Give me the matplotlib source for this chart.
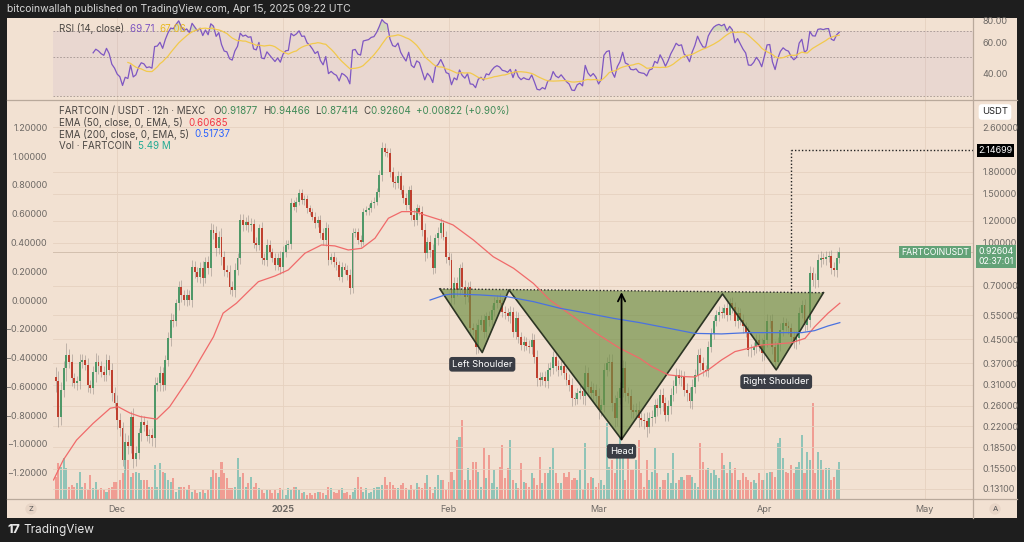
import numpy as np
import pandas as pd
import matplotlib
matplotlib.use('Agg')
import matplotlib.pyplot as plt
import matplotlib.dates as mdates
from matplotlib.patches import Rectangle
from matplotlib.lines import Line2D
from matplotlib.ticker import NullLocator

W, H = 1024, 542
plt.rcParams['font.family'] = ['Inter', 'DejaVu Sans']

# ---- data (12h candles from 2024-11-19 12:00) ----
first_open = 0.33
closes = [
    0.320, 0.238, 0.297, 0.355, 0.396, 0.375, 0.327, 0.313, 0.318, 0.375,
    0.380, 0.365, 0.309, 0.301, 0.345, 0.372, 0.361, 0.345, 0.336, 0.380,
    0.350, 0.289, 0.266, 0.231, 0.216, 0.166, 0.193, 0.186, 0.238, 0.168,
    0.176, 0.207, 0.228, 0.222, 0.202, 0.205, 0.199, 0.309, 0.313, 0.341,
    0.309, 0.380, 0.455, 0.529, 0.525, 0.606, 0.696, 0.650, 0.624, 0.650,
    0.624, 0.821, 0.788, 0.756, 0.810, 0.746, 0.855, 0.810, 1.111, 1.082,
    0.956, 1.052, 0.892, 0.799, 0.788, 0.696, 0.677, 0.799, 0.880, 1.207,
    1.158, 1.190, 1.158, 1.170, 0.997, 0.982, 1.127, 0.880, 0.868, 0.982,
    0.929, 0.880, 0.833, 0.880, 0.821, 0.929, 0.982, 0.990, 1.386, 1.347,
    1.405, 1.512, 1.424, 1.430, 1.329, 1.293, 1.240, 1.175, 1.207, 1.082,
    1.023, 1.127, 0.868, 0.892, 0.855, 0.833, 0.756, 0.821, 0.799, 0.766,
    0.687, 1.082, 1.096, 1.023, 1.009, 1.293, 1.311, 1.329, 1.386, 1.405,
    1.524, 1.750, 2.184, 2.124, 2.096, 1.798, 1.657, 1.635, 1.736, 1.547,
    1.446, 1.366, 1.547, 1.258, 1.207, 1.329, 1.293, 1.111, 0.917, 1.009,
    0.942, 0.810, 1.037, 1.082, 1.175, 1.052, 0.892, 0.868, 0.633, 0.718,
    0.677, 0.810, 0.696, 0.641, 0.696, 0.494, 0.487, 0.424, 0.507, 0.529,
    0.480, 0.544, 0.529, 0.574, 0.607, 0.624, 0.607, 0.566, 0.559, 0.544,
    0.566, 0.480, 0.536, 0.461, 0.430, 0.442, 0.428, 0.424, 0.448, 0.390,
    0.327, 0.322, 0.331, 0.320, 0.350, 0.355, 0.390, 0.361, 0.350, 0.361,
    0.341, 0.322, 0.309, 0.277, 0.275, 0.289, 0.293, 0.281, 0.341, 0.305,
    0.289, 0.297, 0.281, 0.251, 0.262, 0.350, 0.370, 0.375, 0.266, 0.235,
    0.277, 0.301, 0.355, 0.289, 0.281, 0.251, 0.248, 0.252, 0.235, 0.231,
    0.229, 0.218, 0.235, 0.238, 0.262, 0.255, 0.285, 0.266, 0.241, 0.259,
    0.285, 0.307, 0.336, 0.327, 0.331, 0.297, 0.289, 0.270, 0.305, 0.336,
    0.396, 0.370, 0.350, 0.348, 0.424, 0.474, 0.522, 0.551, 0.566, 0.559,
    0.582, 0.551, 0.607, 0.590, 0.522, 0.559, 0.529, 0.501, 0.480, 0.413,
    0.411, 0.424, 0.448, 0.430, 0.401, 0.448, 0.522, 0.525, 0.424, 0.375,
    0.436, 0.487, 0.516, 0.501, 0.494, 0.461, 0.442, 0.455, 0.559, 0.598,
    0.507, 0.529, 0.777, 0.736, 0.733, 0.868, 0.880, 0.873, 0.892, 0.895,
    0.810, 0.799, 0.880, 0.926,
]
# wick length beyond the body, in percent
wick_pct = [
    9, 8, 7, 6, 10, 5, 6, 4, 5, 6,  5, 4, 6, 4, 5, 8, 6, 4, 5, 5,
    4, 6, 5, 7, 6, 5, 8, 6, 5, 7,  6, 5, 6, 5, 4, 5, 6, 7, 5, 6,
    5, 4, 5, 6, 5, 4, 5, 6, 4, 5,  4, 6, 5, 4, 5, 6, 4, 5, 6, 5,
    6, 5, 7, 5, 4, 6, 5, 6, 4, 5,  5, 4, 6, 5, 4, 5, 4, 5, 4, 5,
    4, 3, 4, 4, 6, 5, 4, 3, 4, 3,  4, 3, 3, 4, 4, 3, 3, 4, 3, 4,
    4, 5, 4, 3, 4, 4, 3, 4, 3, 4,  5, 4, 3, 3, 4, 3, 3, 4, 3, 4,
    3, 4, 5, 4, 3, 4, 4, 5, 4, 3,  4, 4, 3, 4, 5, 4, 3, 5, 6, 4,
    6, 5, 4, 5, 4, 3, 5, 4, 6, 5,  5, 4, 5, 6, 4, 5, 4, 6, 5, 4,
    5, 4, 5, 4, 5, 4, 6, 4, 5, 4,  5, 4, 6, 5, 4, 5, 4, 5, 6, 5,
    6, 5, 4, 5, 6, 5, 5, 4, 5, 4,  5, 4, 5, 6, 5, 4, 5, 6, 7, 5,
    5, 6, 5, 7, 5, 6, 5, 6, 6, 7,  6, 5, 7, 6, 5, 6, 5, 6, 7, 5,
    6, 8, 5, 6, 5, 6, 5, 6, 5, 5,  6, 5, 6, 5, 6, 5, 6, 5, 6, 5,
    5, 6, 5, 4, 5, 4, 5, 4, 5, 4,  4, 5, 4, 5, 4, 5, 4, 5, 4, 5,
    5, 4, 5, 5, 6, 5, 6, 5, 6, 5,  5, 6, 5, 4, 5, 4, 5, 6, 5, 4,
    5, 4, 6, 5, 6, 5, 6, 4, 5, 4,  5, 5, 6, 4,
]
# volume, millions of FARTCOIN
volume_m = [
    3.3, 5.4, 4.8, 6.2, 4.7, 1.8, 2.1, 1.8, 2.4, 4.1, 1.8, 2.4, 1.4, 3.6, 1.7, 2.6, 1.4, 1.7, 1.4, 1.1,
    1.7, 1.8, 2.6, 2.6, 2.9, 3.9, 5.9, 5.9, 3.3, 3.9, 4.1, 3.9, 2.9, 2.9, 2.9, 1.8, 1.8, 5.1, 1.8, 5.4,
    4.1, 3.9, 2.9, 2.6, 3.2, 1.1, 1.8, 1.8, 1.8, 1.4, 2.1, 1.1, 1.4, 0.9, 1.1, 1.4, 0.9, 1.4, 3.3, 4.4,
    3.9, 3.3, 5.6, 3.9, 3.2, 1.7, 1.7, 1.8, 6.2, 3.3, 3.9, 1.8, 2.4,
    3.3, 1.8, 2.4, 1.7, 1.4, 0.9, 1.4, 1.4, 0.9, 1.4, 0.9, 1.7, 1.4, 0.6, 1.7, 1.4, 1.8,
    1.8, 1.4, 0.9, 1.1, 0.6, 0.9, 0.6, 0.9, 1.1, 1.1, 0.9, 0.6, 1.8, 1.7, 1.1, 0.9,
    1.4, 1.7, 0.9, 1.1, 0.6, 1.1, 1.7, 3.3, 1.8, 1.1, 1.7, 0.9, 1.1, 1.7, 1.8, 1.8, 2.1, 3.3, 2.1,
    2.6, 2.1, 1.7, 1.7, 2.1, 2.4, 1.7, 1.4, 2.1, 1.4, 2.4, 1.8, 1.7, 2.4, 3.6, 1.8, 0.9, 1.8, 3.6,
    2.9, 2.9, 1.4, 2.6, 4.1, 2.9, 8.9, 9.3, 11.9, 2.9, 4.7, 2.9, 5.6, 5.6, 4.1, 1.8, 7.7, 3.2, 6.6, 2.4,
    4.4, 1.8, 4.8, 8.1, 3.2, 4.7, 8.9, 2.9, 2.4, 1.7, 5.4, 2.6, 2.4, 1.8, 3.9, 3.2, 2.1, 6.3, 2.4, 3.9,
    3.9, 4.8, 7.7, 3.9, 2.4, 2.4, 3.9, 3.3, 4.1, 2.9, 3.2, 2.9, 4.4, 1.4, 8.4, 2.4, 3.3, 3.2, 1.8, 2.4,
    2.9, 2.1, 11.4, 4.8, 5.9, 3.9, 7.7, 9.2, 6.9, 2.9, 7.4, 4.4, 4.4, 5.9,
    8.9, 3.9, 1.8, 5.9, 2.9, 4.1, 7.7, 3.9, 1.8, 2.9, 2.9, 3.9, 2.4,
    6.9, 2.4, 2.9, 3.3, 2.9, 3.6, 3.6, 3.3, 2.4, 1.8, 8.4, 5.6, 4.4,
    4.7, 3.9, 4.4, 3.6, 3.2, 6.9, 5.1, 3.9, 5.6, 3.9, 4.7, 2.9, 2.9,
    3.9, 3.3, 2.9, 2.6, 2.9, 2.4, 3.9, 2.9, 2.9, 3.9, 4.1, 4.1, 3.3,
    8.4, 9.2, 6.2, 4.1, 3.9, 5.1, 3.9, 4.8, 5.6, 9.6, 3.9,
    7.1, 5.9, 14.4, 3.9, 7.1, 5.9, 4.4, 4.7, 4.7, 2.9, 3.3, 4.5, 5.49,
]

# EMA lines, x in days from 2025-01-01
ema50_day = [-42.9, -41.1, -38.6, -35.5, -32.3, -30.8, -28.6, -26.7, -23.6, -21.2,
             -17.4, -13.0, -11.2, -8.7, -6.2, -4.6, -1.5, 1.0, 4.1, 7.2,
             9.7, 12.2, 14.7, 17.2, 19.7, 22.2, 24.7, 26.5, 29.4, 31.8,
             35.6, 39.3, 43.1, 46.8, 49.9, 54.3, 58.6, 63.0, 66.7, 68.9,
             72.0, 75.1, 77.0, 79.5, 82.0, 84.5, 87.0, 89.5, 92.0, 95.1,
             97.6, 99.4, 101.9, 104.1]
ema50_val = [0.141, 0.166, 0.196, 0.225, 0.255, 0.258, 0.245, 0.238, 0.233, 0.258,
             0.331, 0.460, 0.559, 0.607, 0.677, 0.725, 0.760, 0.799, 0.917, 0.982,
             0.974, 0.942, 0.955, 1.038, 1.224, 1.293, 1.293, 1.257, 1.207, 1.158,
             1.023, 0.891, 0.810, 0.715, 0.623, 0.543, 0.473, 0.418, 0.385, 0.360,
             0.336, 0.331, 0.330, 0.350, 0.380, 0.407, 0.418, 0.430, 0.433, 0.438,
             0.454, 0.500, 0.559, 0.607]
ema200_day = [27.5, 30.3, 31.8, 36.8, 41.8, 46.8, 51.8, 56.8, 61.7, 66.7,
              72.0, 77.0, 82.0, 87.0, 92.0, 97.0, 99.4, 101.9, 104.1]
ema200_val = [0.623, 0.650, 0.655, 0.650, 0.641, 0.615, 0.582, 0.559, 0.536, 0.517,
              0.494, 0.473, 0.471, 0.476, 0.476, 0.476, 0.484, 0.503, 0.517]

# inverse head & shoulders drawing
hs_time = ['2025-01-30 08:00', '2025-02-07 06:00', '2025-02-12 06:00', '2025-03-05 07:00',
           '2025-03-24 04:00', '2025-04-03 05:00', '2025-04-12 01:00']
hs_price = [0.683, 0.404, 0.677, 0.197, 0.655, 0.350, 0.662]
hs_names = {1: 'Left Shoulder', 3: 'Head', 5: 'Right Shoulder'}
arrow_top = 0.665
target_time = '2025-04-06 01:00'
target_from = 0.660
target_price = 2.14699
last_price = 0.92604

right_ticks = [2.6, 1.8, 1.5, 1.2, 1.0, 0.7, 0.55, 0.45, 0.37, 0.31, 0.26, 0.22, 0.185, 0.155, 0.131]
left_ticks = [1.2, 1.0, 0.8, 0.6, 0.4, 0.2, 0.0, -0.2, -0.4, -0.6, -0.8, -1.0, -1.2]
rsi_ticks = [40, 60, 80]
months = ['2024-12-01', '2025-01-01', '2025-02-01', '2025-03-01', '2025-04-01', '2025-05-01']
month_labels = ['Dec', '2025', 'Feb', 'Mar', 'Apr', 'May']

# ---- derived ----
n = len(closes)
c = np.array(closes)
o = np.array([first_open] + closes[:-1])
w = np.array(wick_pct[:n]) / 100.0
hi = np.maximum(o, c) * (1 + w)
lo = np.minimum(o, c) * (1 - w)
t = pd.Timestamp('2024-11-19 12:00') + pd.to_timedelta(np.arange(n) * 12, unit='h')
x = mdates.date2num(t)
up = c >= o
base = mdates.date2num(pd.Timestamp('2025-01-01'))
xlim = (base - 43, base + 129)


def rsi_wilder(v, k=14):
    d = np.diff(v)
    g = np.clip(d, 0, None)
    l = np.clip(-d, 0, None)
    out = np.full(len(v), np.nan)
    ag, al = g[:k].mean(), l[:k].mean()
    out[k] = 100 - 100 / (1 + ag / al)
    for i in range(k + 1, len(v)):
        ag = (ag * (k - 1) + g[i - 1]) / k
        al = (al * (k - 1) + l[i - 1]) / k
        out[i] = 100 - 100 / (1 + ag / al)
    return out


rsi = rsi_wilder(c)
rsi_ma = pd.Series(rsi).rolling(14).mean().values

BG = '#f2e1d2'
GRID = '#e6d1bf'
TXT = '#6e6965'
SEP = '#b9a99b'

fig = plt.figure(figsize=(W / 100, H / 100), dpi=100, facecolor='#1e1e1e')
fig.add_artist(Rectangle((7 / W, 1 - 518 / H), 1010 / W, 500 / H, transform=fig.transFigure,
                         facecolor=BG, edgecolor='none', zorder=0))

rect_price = [53 / W, 1 - 499 / H, 920 / W, 399 / H]
rect_rsi = [53 / W, 1 - 100 / H, 920 / W, 82 / H]

# volume (behind)
axv = fig.add_axes(rect_price, facecolor='none')
nv = min(n, len(volume_m))
vcol = np.where(up[:nv], '#26a69a', '#ef5350')
axv.bar(x[:nv], volume_m[:nv], width=0.38, color=vcol, alpha=0.48, linewidth=0)
axv.set_xlim(*xlim)
axv.set_ylim(0, 60)
axv.axis('off')

# left dummy axis
axl = fig.add_axes(rect_price, facecolor='none')
axl.set_ylim(-1.382, 1.389)
axl.set_yticks(left_ticks)
axl.set_yticklabels([('%.5f' % v).replace('-', '\u2212') if v != 0 else '0.00000' for v in left_ticks])
axl.set_xticks([])
axl.tick_params(axis='y', length=0, pad=4, labelsize=6.5, labelcolor=TXT)
for s in axl.spines.values():
    s.set_visible(False)

# price
ax = fig.add_axes(rect_price, facecolor='none')
ax.set_yscale('log')
ax.set_xlim(*xlim)
ax.set_ylim(0.1205, 3.25)
mx = mdates.date2num(pd.to_datetime(months))
ax.set_xticks(mx)
ax.set_xticklabels(month_labels)
ax.get_xticklabels()[1].set_fontweight('bold')
ax.yaxis.tick_right()
ax.set_yticks(right_ticks)
ax.set_yticklabels(['%.5f' % v for v in right_ticks])
ax.yaxis.set_minor_locator(NullLocator())
ax.tick_params(axis='y', length=0, pad=7, labelsize=6.5, labelcolor=TXT)
ax.tick_params(axis='x', length=0, pad=4, labelsize=6.5, labelcolor=TXT)
ax.grid(True, color=GRID, lw=0.6, zorder=0)
for s in ax.spines.values():
    s.set_visible(False)

ax.axhline(last_price, color='#d3bfae', lw=0.7, zorder=1)
ax.vlines(x, lo, hi, color='#8f8781', lw=0.6, alpha=0.6, zorder=2)
ax.bar(x[up], c[up] - o[up], bottom=o[up], width=0.36, color='#4f9868', linewidth=0, zorder=3)
ax.bar(x[~up], o[~up] - c[~up], bottom=c[~up], width=0.36, color='#bf3f2e', linewidth=0, zorder=3)

hx = mdates.date2num(pd.to_datetime(hs_time))
ax.fill(list(hx), hs_price, facecolor='#6f8f45', alpha=0.68, edgecolor='none', zorder=4)
ax.plot(hx, hs_price, color='#2c3524', lw=1.2, zorder=5)
ax.plot([hx[0], hx[-1]], [hs_price[0], hs_price[-1]], color='#2c2c2c', lw=1,
        ls=(0, (1, 1.5)), zorder=5)

ax.plot(base + np.array(ema50_day), ema50_val, color='#f06a6a', lw=0.9, zorder=6)
ax.plot(base + np.array(ema200_day), ema200_val, color='#4a72e0', lw=0.9, zorder=6)

ax.annotate('', xy=(hx[3], arrow_top), xytext=(hx[3], hs_price[3]),
            arrowprops=dict(arrowstyle='->', color='black', lw=1.3, mutation_scale=13,
                            shrinkA=0, shrinkB=0), zorder=7)
tx = mdates.date2num(pd.Timestamp(target_time))
ax.plot([tx, tx], [target_from, target_price], color='#222', lw=1, ls=(0, (1, 1.5)), zorder=7)
ax.plot([tx, xlim[1]], [target_price, target_price], color='#222', lw=1, ls=(0, (1, 1.5)), zorder=7)

for i, name in hs_names.items():
    ax.annotate(name, xy=(hx[i], hs_price[i]), xytext=(0, -8.5), textcoords='offset points',
                ha='center', va='center', fontsize=6.8, color='white', zorder=8,
                bbox=dict(boxstyle='round,pad=0.3', fc='#3a3d45', ec='none'))

ax.annotate('%.5f' % target_price, xy=(1, target_price), xycoords=('axes fraction', 'data'),
            xytext=(4, 0), textcoords='offset points', ha='left', va='center', fontsize=6.5,
            color='white', bbox=dict(boxstyle='square,pad=0.2', fc='black', ec='none'),
            annotation_clip=False)
ax.annotate('%.5f\n02:37:01' % last_price, xy=(1, last_price), xycoords=('axes fraction', 'data'),
            xytext=(4, -3), textcoords='offset points', ha='left', va='center', fontsize=6.3,
            color='white', linespacing=1.1,
            bbox=dict(boxstyle='square,pad=0.25', fc='#63a277', ec='none'), annotation_clip=False)
ax.annotate('FARTCOINUSDT', xy=(1, last_price), xycoords=('axes fraction', 'data'),
            xytext=(-3, 0), textcoords='offset points', ha='right', va='center', fontsize=6.3,
            color='white', bbox=dict(boxstyle='square,pad=0.2', fc='#63a277', ec='none'),
            annotation_clip=False)

# RSI pane
ar = fig.add_axes(rect_rsi, facecolor='none')
ar.set_yscale('log')
ar.set_xlim(*xlim)
ar.set_ylim(28.4, 82.5)
ar.axhspan(30, 70, color='#7e57c2', alpha=0.07, lw=0)
for lvl in (70, 50, 30):
    ar.axhline(lvl, color='#a39591', lw=0.6, ls=(0, (2, 2)))
for m in mx:
    ar.axvline(m, color=GRID, lw=0.6, zorder=0)
ar.fill_between(x, 70, rsi, where=rsi > 70, color='#4caf50', alpha=0.18, interpolate=True, lw=0)
ar.plot(x, rsi, color='#7e57c2', lw=0.9)
ar.plot(x, rsi_ma, color='#f2c94c', lw=0.9)
ar.yaxis.tick_right()
ar.set_yticks(rsi_ticks)
ar.set_yticklabels(['%.2f' % v for v in rsi_ticks])
ar.yaxis.set_minor_locator(NullLocator())
ar.set_xticks([])
ar.tick_params(axis='y', length=0, pad=7, labelsize=6.5, labelcolor=TXT)
for s in ar.spines.values():
    s.set_visible(False)

# separators
fig.add_artist(Line2D([7 / W, 1017 / W], [1 - 100 / H] * 2, color=SEP, lw=0.9))
fig.add_artist(Line2D([7 / W, 1017 / W], [1 - 499 / H] * 2, color=SEP, lw=0.9))
fig.add_artist(Line2D([973 / W] * 2, [1 - 18 / H, 1 - 518 / H], color=SEP, lw=0.9))

# header / footer
fig.text(7 / W, 1 - 9 / H, 'bitcoinwallah published on TradingView.com, Apr 15, 2025 09:22 UTC',
         color='#d6d6d6', fontsize=7.5, va='center')
fig.text(7 / W, 1 - 530 / H, '17', color='#e6e6e6', fontsize=9, fontweight='heavy', va='center')
fig.text(23 / W, 1 - 530 / H, 'TradingView', color='#e6e6e6', fontsize=8.5, va='center')
for lbl, px in (('Z', 31), ('A', 995)):
    fig.text(px / W, 1 - 509 / H, lbl, color='#555', fontsize=5.5, ha='center', va='center',
             bbox=dict(boxstyle='circle,pad=0.35', fc='#e8d5c6', ec='none'))
fig.text(995 / W, 1 - 112 / H, 'USDT', color='#222', fontsize=6.8, ha='center', va='center',
         bbox=dict(boxstyle='round,pad=0.35', fc='white', ec='none'))

renderer = fig.canvas.get_renderer()


def put_parts(x_px, y_px, parts, size=7):
    for s, col in parts:
        tt = fig.text(x_px / W, 1 - y_px / H, s, color=col, fontsize=size, va='center', ha='left')
        x_px += tt.get_window_extent(renderer=renderer).width


G = '#4a4643'
GR = '#3f8a57'
put_parts(59, 29, [('RSI (14, close)  ', G), ('69.71  ', '#7e57c2'), ('67.06', '#e8b923')])
put_parts(59, 111, [('FARTCOIN / USDT \u00b7 12h \u00b7 MEXC   ', G), ('O', G), ('0.91877  ', GR),
                    ('H', G), ('0.94466  ', GR), ('L', G), ('0.87414  ', GR), ('C', G),
                    ('0.92604  ', GR), ('+0.00822 (+0.90%)', GR)])
put_parts(59, 123, [('EMA (50, close, 0, EMA, 5)  ', G), ('0.60685', '#f23645')])
put_parts(59, 134, [('EMA (200, close, 0, EMA, 5)  ', G), ('0.51737', '#2962ff')])
put_parts(59, 146, [('Vol \u00b7 FARTCOIN  ', G), ('5.49 M', '#22ab94')])

fig.savefig('out.png', dpi=100, facecolor=fig.get_facecolor())
